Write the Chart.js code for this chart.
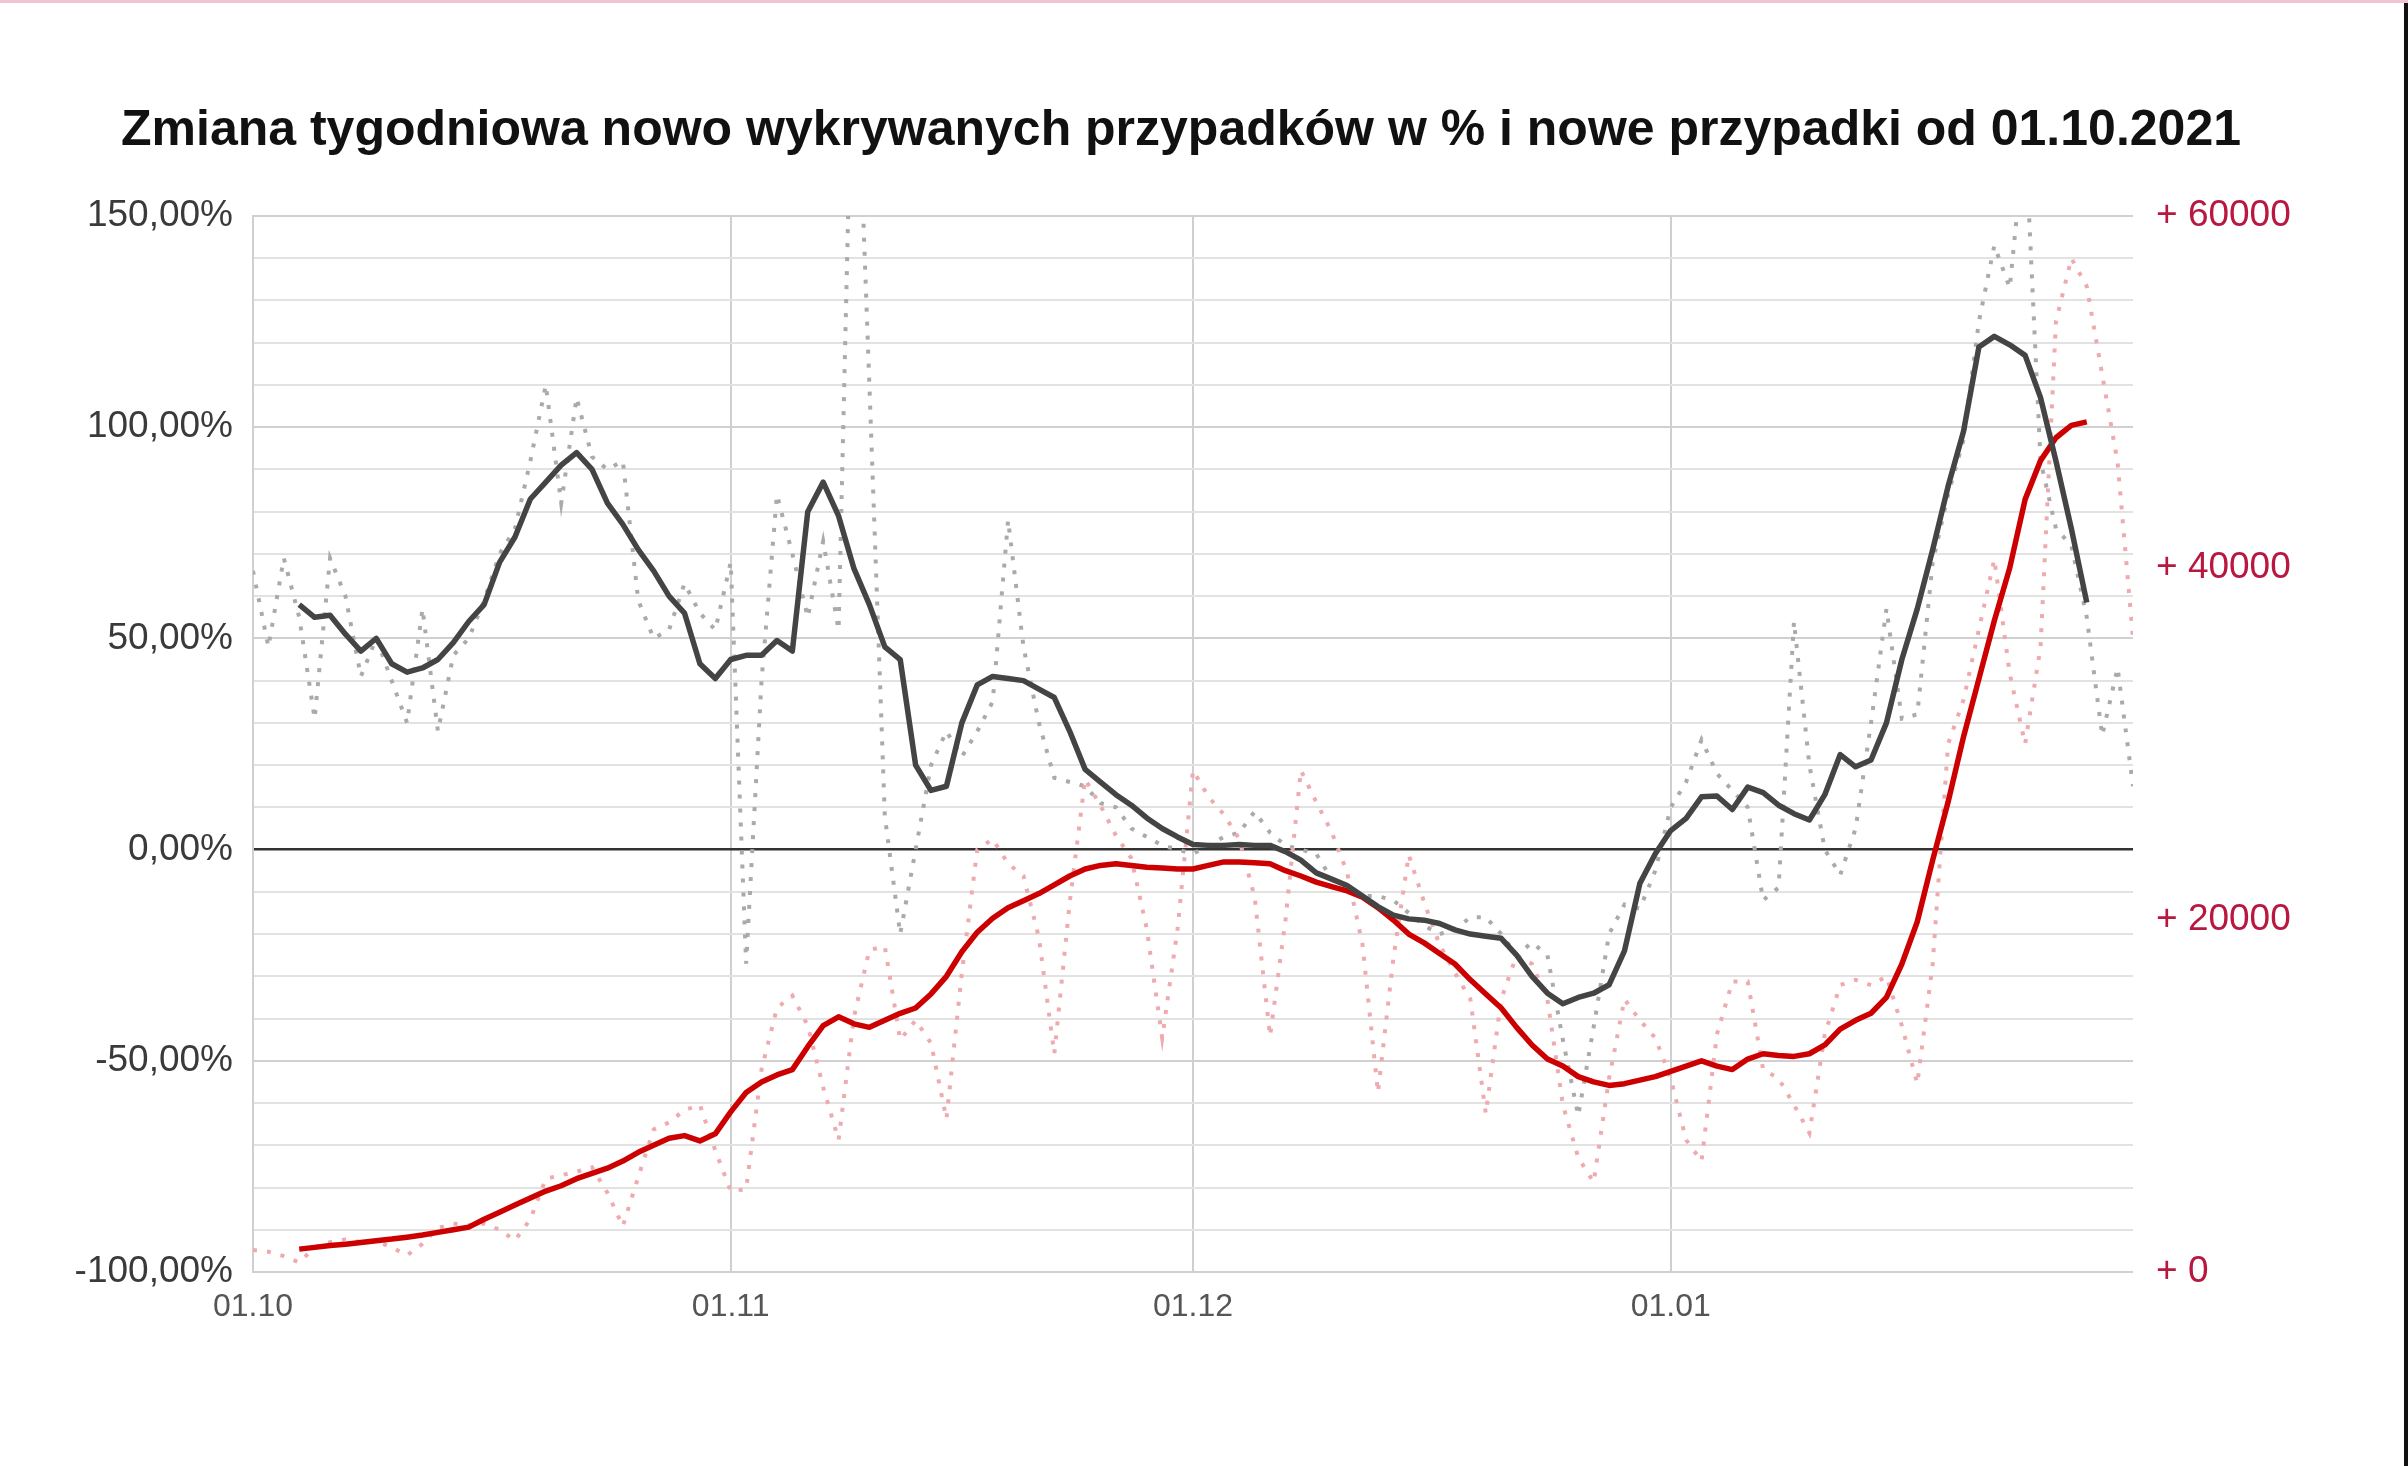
<!DOCTYPE html>
<html>
<head>
<meta charset="utf-8">
<script src="https://cdn.jsdelivr.net/npm/chart.js@4.4.1/dist/chart.umd.min.js"></script>
<style>
  html, body { margin: 0; padding: 0; background: #fff; }
  #wrap { position: relative; width: 2408px; height: 1466px; overflow: hidden; }
  #topLine { position: absolute; left: 0; top: 0; width: 2408px; height: 3px; background: #f2c4d2; }
  #rightBar { position: absolute; left: 2404px; top: 3px; width: 4px; height: 1463px; background: #111; }
</style>
</head>
<body>
<div id="wrap">
  <canvas id="chart" width="2408" height="1466"></canvas>
  <div id="topLine"></div>
  <div id="rightBar"></div>
</div>
<script>
const titleText = 'Zmiana tygodniowa nowo wykrywanych przypadków w % i nowe przypadki od 01.10.2021';

// x = days since 01.10.2021
const monthTickDays = [0, 31, 61, 92];
const monthTickLabels = ['01.10', '01.11', '01.12', '01.01'];
const lastDay = 122;
const avgStartDay = 3; // 7-day centered averages start on day 3

// daily week-over-week change in % (dotted grey)
const pctDaily = [
  66, 48, 69, 55, 31, 69, 60, 41, 50, 40,
  30, 57, 28, 46, 50, 59, 70, 76, 92, 110,
  82, 107, 93, 90, 92, 59, 50, 52, 63, 56,
  52, 68, -27, 40, 84, 70, 55, 73, 52, 210,
  110, 8, -20, 0, 20, 28, 22, 28, 35, 78,
  48, 30, 17, 16, 15, 11, 10, 5, 3, 1,
  0, -1, 1, 3, 4, 9, 4, 1, 0, -1,
  -7, -10, -11, -11, -12, -15, -18, -20, -19, -16,
  -16, -20, -25, -22, -25, -45, -63, -42, -20, -13,
  -14, -5, 10, 16, 26, 18, 14, 10, -12, -9,
  54, 20, 0, -6, 5, 30, 57, 31, 32, 68,
  84, 97, 125, 143, 133, 170, 92, 76, 72, 55,
  27, 43, 15
];

// daily new cases (dotted pink, right axis)
const casesDaily = [
  1250, 1150, 900, 550, 1400, 1700, 1850, 1700, 1750, 1400,
  950, 1600, 2500, 2750, 2650, 2750, 2400, 1800, 3000, 5300,
  5500, 5700, 5950, 4500, 2600, 5400, 8100, 8500, 9200, 9500,
  6900, 4600, 4700, 11500, 15000, 15700, 14000, 10500, 7500, 14500,
  18300, 18500, 13200, 14300, 13000, 8700, 17000, 24000, 24600, 23200,
  22500, 19000, 12400, 21000, 28000, 26500, 24800, 23500, 19500, 13300,
  19500, 28500, 27000, 26000, 24600, 21300, 13400, 20000, 28500, 26700,
  25000, 22700, 18600, 10200, 17800, 23700, 21000, 18600, 17000, 15500,
  9000, 15500, 18000, 17500, 15500, 9500, 6500, 5100, 11000, 15500,
  14300, 13300, 11000, 7500, 6300, 13500, 16500, 16500, 11500, 11000,
  9500, 7900, 13500, 16300, 16600, 16300, 16800, 14000, 10700, 17500,
  30000, 32500, 36500, 40500, 34000, 30000, 35500, 54000, 57600, 56000,
  51000, 46000, 36000
];

// 7-day average of the weekly change in % (solid dark grey)
const pctAvg = [
  58, 55, 55.5, 51, 47, 50, 44,
  42, 43, 45, 49, 54, 58, 68, 74, 83, 87,
  91, 94, 90, 82, 77, 71, 66, 60, 56, 44,
  40.5, 45, 46, 46, 49.5, 47, 80, 87, 79, 66.5,
  58, 48, 45, 20, 14, 15, 30, 39, 41, 40.5,
  40, 38, 36, 28, 19, 16, 13, 10.5, 7.5, 5,
  3, 1.2, 1, 1, 1.2, 1, 1, -0.5, -2.5, -5.5,
  -7, -8.5, -11, -13.5, -15.5, -16.4, -16.7, -17.5, -19, -20,
  -20.5, -21, -25, -30, -34, -36.5, -35, -34, -32, -24,
  -8, -1, 4.5, 7.4, 12.5, 12.7, 9.5, 14.8, 13.5, 10.5,
  8.5, 7, 13, 22.5, 19.6, 21.2, 30, 45, 57, 71,
  86, 99, 119, 121.5, 119.5, 117, 107, 92, 76, 58.5
];

// 7-day average of new cases (solid red, right axis)
const casesAvg = [
  1300, 1400, 1500, 1580, 1680, 1780, 1870,
  1980, 2100, 2250, 2400, 2550, 3000, 3400, 3800, 4200, 4600,
  4900, 5300, 5600, 5900, 6300, 6800, 7200, 7600, 7750, 7450,
  7850, 9100, 10200, 10800, 11200, 11500, 12800, 14000, 14500, 14100,
  13900, 14300, 14700, 15000, 15800, 16800, 18200, 19300, 20100, 20700,
  21100, 21500, 22000, 22500, 22900, 23100, 23200, 23100, 23000, 22950,
  22900, 22900, 23100, 23300, 23300, 23250, 23200, 22800, 22500, 22150,
  21900, 21650, 21300, 20700, 20000, 19200, 18700, 18100, 17500, 16600,
  15800, 15000, 13900, 12900, 12100, 11700, 11100, 10800, 10600, 10700,
  10900, 11100, 11400, 11700, 12000, 11700, 11500, 12100, 12400, 12300,
  12250, 12400, 12900, 13800, 14300, 14700, 15600, 17500, 19900, 23400,
  26700, 30400, 33700, 37000, 40000, 43900, 46100, 47400, 48100, 48300
];

const CRIMSON = '#b8173f';

function toPoints(values, startDay) {
  return values.map((v, i) => ({ x: startDay + i, y: v }));
}

function pctLabel(v) {
  return v.toFixed(2).replace('.', ',') + '%';
}

Chart.defaults.font.family = '"Liberation Sans", Arial, sans-serif';

const ctx = document.getElementById('chart').getContext('2d');

const config = {
  type: 'line',
  data: {
    datasets: [
      {
        label: 'Zmiana tygodniowa (średnia)',
        data: toPoints(pctAvg, avgStartDay),
        yAxisID: 'y',
        borderColor: '#444444',
        borderWidth: 5.5,
        borderJoinStyle: 'round',
        pointRadius: 0,
        order: 1
      },
      {
        label: 'Nowe przypadki (średnia)',
        data: toPoints(casesAvg, avgStartDay),
        yAxisID: 'y2',
        borderColor: '#cc0000',
        borderWidth: 5.5,
        borderJoinStyle: 'round',
        pointRadius: 0,
        order: 2
      },
      {
        label: 'Nowe przypadki (dziennie)',
        data: toPoints(casesDaily, 0),
        yAxisID: 'y2',
        borderColor: '#eeaaae',
        borderWidth: 4,
        borderDash: [4, 10],
        pointRadius: 0,
        order: 3
      },
      {
        label: 'Zmiana tygodniowa (dziennie)',
        data: toPoints(pctDaily, 0),
        yAxisID: 'y',
        borderColor: '#aaaaaa',
        borderWidth: 4,
        borderDash: [4, 10],
        pointRadius: 0,
        order: 4
      }
    ]
  },
  options: {
    responsive: false,
    animation: false,
    layout: { padding: { left: 0, right: 46, top: 0, bottom: 0 } },
    plugins: {
      legend: { display: false },
      tooltip: { enabled: false },
      title: {
        display: true,
        text: titleText,
        color: '#111111',
        font: { size: 50, weight: 'bold' },
        padding: { top: 101, bottom: 55 }
      }
    },
    scales: {
      x: {
        type: 'linear',
        min: 0,
        max: lastDay,
        afterBuildTicks: (scale) => {
          scale.ticks = monthTickDays.map(v => ({ value: v }));
        },
        afterFit: (scale) => { scale.height = 194; },
        ticks: {
          autoSkip: false,
          maxRotation: 0,
          padding: 16,
          color: '#555555',
          font: { size: 32 },
          callback: (v) => monthTickLabels[monthTickDays.indexOf(v)]
        },
        grid: { color: '#cfcfcf', lineWidth: 2, drawTicks: false },
        border: { display: false }
      },
      y: {
        position: 'left',
        min: -100,
        max: 150,
        afterFit: (scale) => { scale.width = 253; },
        ticks: {
          stepSize: 10,
          autoSkip: false,
          padding: 20,
          color: '#3a3a3a',
          font: { size: 37 },
          callback: (v) => (v % 50 === 0 ? pctLabel(v) : '')
        },
        grid: {
          drawTicks: false,
          color: (c) => {
            if (c.tick.value === 0) return '#333333';
            if (c.tick.value % 50 === 0) return '#d0d0d0';
            return '#e2e2e2';
          },
          lineWidth: (c) => (c.tick.value === 0 ? 2.5 : 2)
        },
        border: { display: true, color: '#d0d0d0', width: 2 }
      },
      y2: {
        position: 'right',
        min: 0,
        max: 60000,
        afterFit: (scale) => { scale.width = 229; },
        ticks: {
          stepSize: 20000,
          padding: 15,
          color: CRIMSON,
          font: { size: 37 },
          callback: (v) => '+ ' + v
        },
        grid: { display: false },
        border: { display: false }
      }
    }
  }
};

const chart = new Chart(ctx, config);
</script>
</body>
</html>
